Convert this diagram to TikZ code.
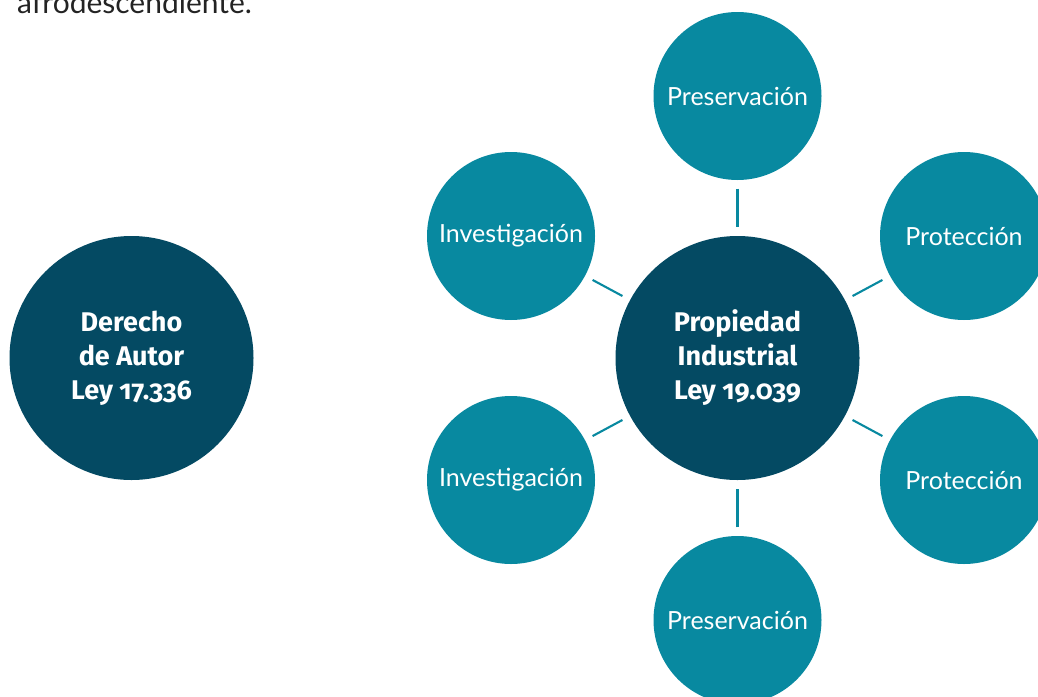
\documentclass[tikz,border=0pt]{standalone}
\usepackage{fontspec}
\setmainfont{Lato}
\newfontfamily\headfont[Numbers=OldStyle]{Fira Sans}
\definecolor{deepteal}{RGB}{4,74,99}
\definecolor{lightteal}{RGB}{8,137,160}
\definecolor{bodytext}{RGB}{35,35,35}
\begin{document}
\begin{tikzpicture}[x=1pt,y=-1pt,
  bigcircle/.style={circle,fill=deepteal,draw=none,minimum size=244pt,inner sep=0pt,
    text=white,align=center,font=\headfont\bfseries\fontsize{27}{34}\selectfont},
  smallcircle/.style={circle,fill=lightteal,draw=none,minimum size=168pt,inner sep=0pt,
    text=white,font=\fontsize{25}{30}\selectfont},
  link/.style={draw=lightteal,line width=2.1pt,shorten <=8.5pt,shorten >=8.5pt}]
  \useasboundingbox (0,0) rectangle (1038,696);
  \clip (0,0) rectangle (1038,696);

  % trailing line of the paragraph above the diagram
  \node[anchor=base west,inner sep=0pt,text=bodytext,font=\fontsize{30}{36}\selectfont]
    (para) at (17,13) {afrodescendiente.};

  % main nodes
  \node[bigcircle] (autor) at (131.5,358) {Derecho\\de Autor\\Ley 17.336};
  \node[bigcircle] (ind) at (737.5,358) {Propiedad\\Industrial\\Ley 19.039};

  % satellites around the industrial property node
  \node[smallcircle] (top) at (737.5,96) {Preservación};
  \node[smallcircle] (ul) at (511,236) {Investigación};
  \node[smallcircle] (ur) at (964,236) {Protección};
  \node[smallcircle] (ll) at (511,480) {Investigación};
  \node[smallcircle] (lr) at (964,480) {Protección};
  \node[smallcircle] (bot) at (737.5,620) {Preservación};

  % connectors
  \foreach \s in {top,ul,ur,ll,lr,bot}
    \draw[link] (\s) -- (ind);
\end{tikzpicture}
\end{document}
